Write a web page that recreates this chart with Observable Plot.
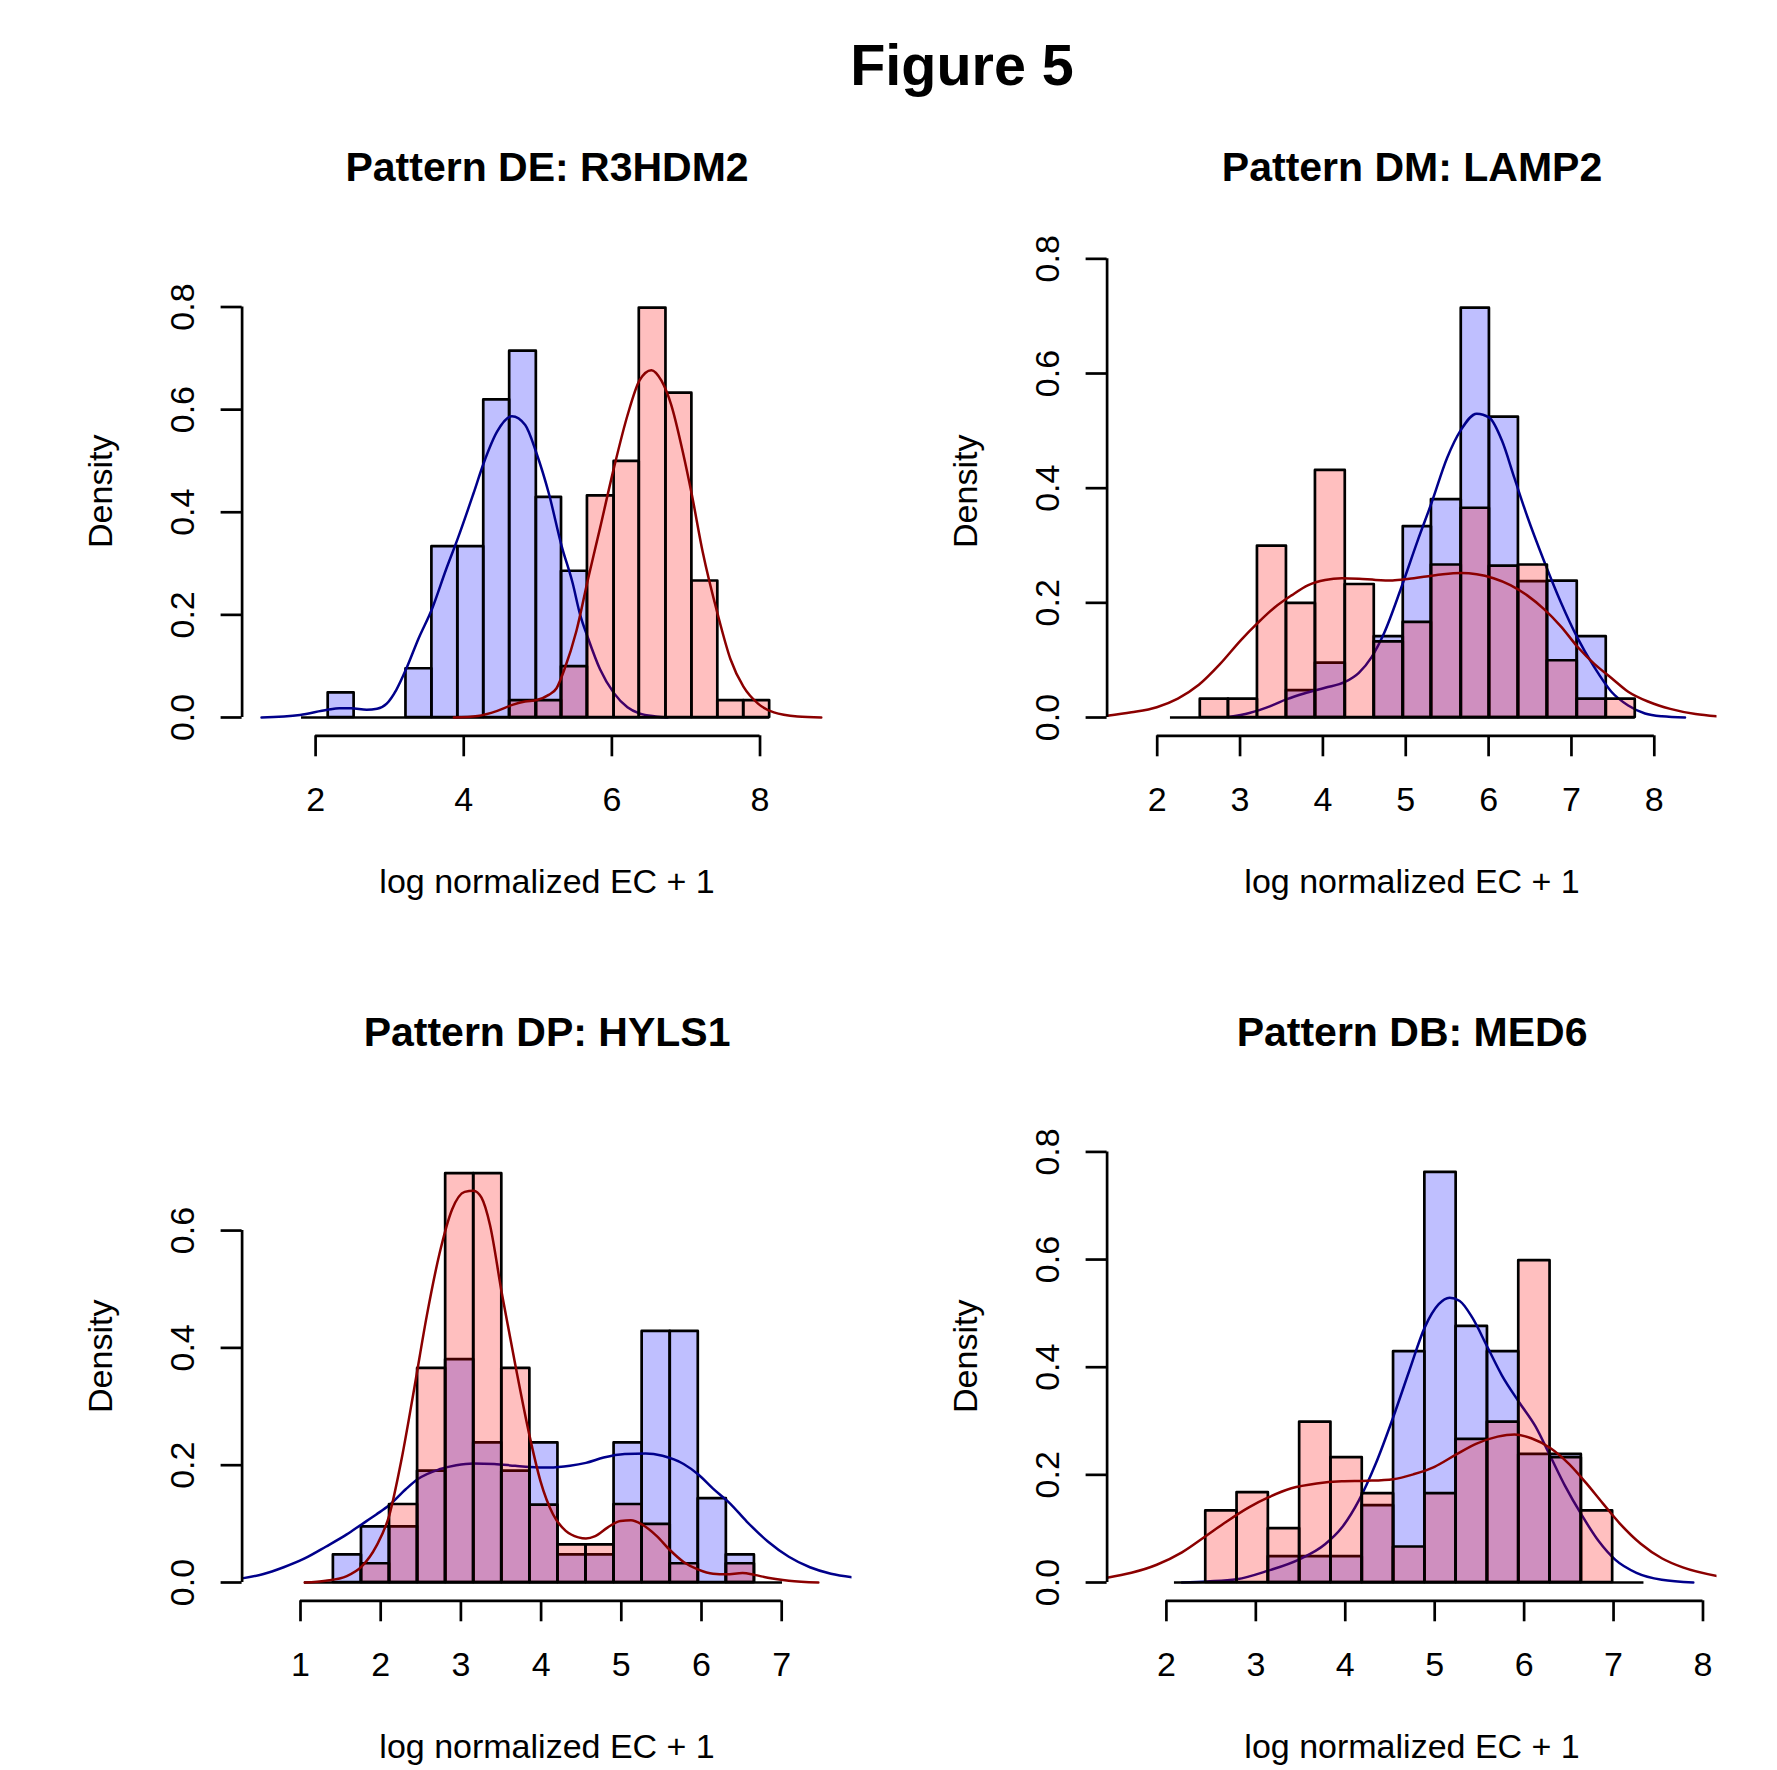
<!DOCTYPE html>
<html>
<head>
<meta charset="utf-8">
<script src="https://cdn.jsdelivr.net/npm/d3@7"></script>
<script src="https://cdn.jsdelivr.net/npm/@observablehq/plot@0.6"></script>
<style>
  html, body { margin: 0; padding: 0; background: #ffffff; }
  #page { position: relative; width: 1777px; height: 1770px; overflow: hidden;
          font-family: "Liberation Sans", Arial, Helvetica, sans-serif; }
  #figtitle { position: absolute; left: 662px; width: 600px; top: 36.5px; text-align: center;
              font-size: 57.5px; line-height: 57.5px; font-weight: bold; color: #000; z-index: 2; }
  .panel { position: absolute; width: 865px; height: 865px; }
</style>
</head>
<body>
<div id="page"><div id="figtitle">Figure 5</div></div>
<script>
// ---------------- data ----------------
const titles = ["Pattern DE: R3HDM2", "Pattern DM: LAMP2", "Pattern DP: HYLS1", "Pattern DB: MED6"];
const xLabel = "log normalized EC + 1";
const yLabel = "Density";

// Panel 1: Pattern DE: R3HDM2
const p1Edges = [1.81, 2.17, 2.52, 2.87, 3.22, 3.57, 3.92, 4.27, 4.62, 4.98, 5.32, 5.67, 6.03, 6.37, 6.73, 7.08, 7.43, 7.78, 8.13];
const p1Blue = [0, 0.048, 0, 0, 0.095, 0.333, 0.333, 0.619, 0.714, 0.429, 0.285, 0, 0, 0, 0, 0, 0, 0];
const p1Red = [0, 0, 0, 0, 0, 0, 0, 0, 0.033, 0.033, 0.099, 0.432, 0.499, 0.798, 0.632, 0.266, 0.033, 0.033];
const p1BlueKdeX = [1.27, 1.79, 2.16, 2.32, 2.48, 2.69, 2.83, 2.96, 3.09, 3.23, 3.39, 3.57, 3.76, 3.92, 4.13, 4.27, 4.45, 4.65, 4.83, 4.98, 5.15, 5.32, 5.47, 5.57, 5.68, 5.84, 6.03, 6.21, 6.37, 6.59, 6.75];
const p1BlueKdeY = [0, 0.005, 0.015, 0.018, 0.018, 0.015, 0.017, 0.027, 0.054, 0.097, 0.154, 0.211, 0.288, 0.349, 0.436, 0.496, 0.557, 0.587, 0.570, 0.516, 0.436, 0.335, 0.262, 0.201, 0.154, 0.094, 0.047, 0.020, 0.008, 0.002, 0];
const p1RedKdeX = [3.867, 4.187, 4.453, 4.667, 4.827, 4.987, 5.147, 5.253, 5.36, 5.52, 5.675, 5.84, 6.027, 6.213, 6.373, 6.533, 6.667, 6.80, 6.96, 7.077, 7.227, 7.429, 7.6, 7.776, 7.973, 8.187, 8.507, 8.827];
const p1RedKdeY = [0, 0.003, 0.013, 0.025, 0.031, 0.034, 0.044, 0.057, 0.094, 0.168, 0.268, 0.369, 0.486, 0.590, 0.657, 0.677, 0.657, 0.610, 0.516, 0.436, 0.322, 0.201, 0.114, 0.060, 0.027, 0.010, 0.002, 0];
const p1XTicks = [2, 4, 6, 8];
const p1YTicks = [0, 0.2, 0.4, 0.6, 0.8];

// Panel 2: Pattern DM: LAMP2
const p2Edges = [2.16, 2.52, 2.86, 3.21, 3.56, 3.91, 4.27, 4.62, 4.97, 5.31, 5.67, 6.01, 6.36, 6.71, 7.07, 7.42, 7.77];
const p2Blue = [0, 0, 0, 0, 0.047, 0.095, 0, 0.141, 0.333, 0.380, 0.714, 0.524, 0.237, 0.238, 0.141, 0];
const p2Red = [0, 0.032, 0.032, 0.299, 0.199, 0.431, 0.232, 0.132, 0.166, 0.266, 0.365, 0.264, 0.266, 0.099, 0.032, 0.032];
const p2BlueKdeX = [2.859, 3.113, 3.367, 3.565, 3.773, 4.027, 4.266, 4.434, 4.586, 4.738, 4.942, 5.145, 5.313, 5.50, 5.668, 5.856, 6.009, 6.161, 6.313, 6.466, 6.669, 6.872, 7.065, 7.279, 7.482, 7.685, 7.888, 8.091, 8.371];
const p2BlueKdeY = [0.001, 0.008, 0.020, 0.032, 0.042, 0.052, 0.062, 0.078, 0.105, 0.147, 0.225, 0.309, 0.375, 0.453, 0.502, 0.530, 0.523, 0.483, 0.417, 0.351, 0.273, 0.201, 0.141, 0.087, 0.045, 0.021, 0.007, 0.002, 0];
const p2RedKdeX = [1.395, 1.69, 1.995, 2.249, 2.503, 2.757, 3.011, 3.214, 3.417, 3.621, 3.824, 4.027, 4.23, 4.434, 4.637, 4.84, 5.043, 5.246, 5.45, 5.668, 5.856, 6.059, 6.263, 6.466, 6.669, 6.872, 7.075, 7.279, 7.482, 7.685, 7.939, 8.193, 8.498, 8.752];
const p2RedKdeY = [0.003, 0.009, 0.018, 0.033, 0.057, 0.093, 0.135, 0.165, 0.192, 0.213, 0.231, 0.240, 0.243, 0.242, 0.240, 0.239, 0.242, 0.246, 0.250, 0.252, 0.250, 0.243, 0.231, 0.213, 0.189, 0.159, 0.123, 0.093, 0.069, 0.045, 0.027, 0.015, 0.006, 0.002];
const p2XTicks = [2, 3, 4, 5, 6, 7, 8];
const p2YTicks = [0, 0.2, 0.4, 0.6, 0.8];

// Panel 3: Pattern DP: HYLS1
const p3Edges = [1.05, 1.41, 1.76, 2.11, 2.46, 2.81, 3.16, 3.51, 3.86, 4.21, 4.56, 4.91, 5.26, 5.61, 5.96, 6.31, 6.66, 7.01];
const p3Blue = [0, 0.047, 0.095, 0.095, 0.19, 0.38, 0.238, 0.19, 0.238, 0.047, 0.047, 0.238, 0.428, 0.428, 0.143, 0.047, 0];
const p3Red = [0, 0, 0.032, 0.133, 0.365, 0.697, 0.697, 0.365, 0.132, 0.064, 0.064, 0.133, 0.099, 0.032, 0, 0.032, 0];
const p3BlueKdeX = [0.2718, 0.528, 0.79, 1.052, 1.315, 1.577, 1.761, 1.945, 2.108, 2.312, 2.459, 2.732, 2.942, 3.157, 3.415, 3.677, 3.861, 4.097, 4.36, 4.559, 4.78, 5.042, 5.304, 5.514, 5.777, 5.961, 6.144, 6.354, 6.564, 6.827, 7.089, 7.352, 7.614, 7.877];
const p3BlueKdeY = [0.007, 0.014, 0.026, 0.041, 0.061, 0.082, 0.099, 0.116, 0.132, 0.159, 0.176, 0.193, 0.200, 0.203, 0.202, 0.199, 0.197, 0.196, 0.199, 0.204, 0.213, 0.219, 0.220, 0.216, 0.202, 0.184, 0.160, 0.135, 0.104, 0.070, 0.044, 0.026, 0.015, 0.009];
const p3RedKdeX = [1.052, 1.315, 1.577, 1.761, 1.945, 2.108, 2.26, 2.417, 2.575, 2.732, 2.89, 3.047, 3.157, 3.257, 3.362, 3.509, 3.677, 3.861, 3.992, 4.15, 4.307, 4.465, 4.559, 4.675, 4.832, 4.99, 5.121, 5.257, 5.436, 5.609, 5.777, 5.961, 6.144, 6.307, 6.512, 6.659, 6.827, 7.089, 7.457];
const p3RedKdeY = [0, 0.003, 0.011, 0.027, 0.062, 0.115, 0.21, 0.33, 0.455, 0.56, 0.636, 0.666, 0.668, 0.656, 0.610, 0.494, 0.372, 0.247, 0.173, 0.116, 0.088, 0.077, 0.075, 0.079, 0.094, 0.105, 0.106, 0.099, 0.080, 0.055, 0.035, 0.022, 0.015, 0.014, 0.016, 0.013, 0.008, 0.003, 0];
const p3XTicks = [1, 2, 3, 4, 5, 6, 7];
const p3YTicks = [0, 0.2, 0.4, 0.6];

// Panel 4: Pattern DB: MED6
const p4Edges = [2.09, 2.44, 2.79, 3.14, 3.49, 3.84, 4.19, 4.54, 4.89, 5.24, 5.59, 5.94, 6.29, 6.64, 6.99, 7.34];
const p4Blue = [0, 0, 0, 0.048, 0.048, 0.048, 0.143, 0.429, 0.762, 0.476, 0.429, 0.238, 0.238, 0, 0];
const p4Red = [0, 0.133, 0.167, 0.100, 0.298, 0.232, 0.165, 0.066, 0.165, 0.266, 0.298, 0.598, 0.232, 0.133, 0];
const p4BlueKdeX = [2.174, 2.456, 2.786, 3.139, 3.487, 3.774, 3.962, 4.151, 4.339, 4.536, 4.715, 4.889, 5.045, 5.167, 5.28, 5.421, 5.591, 5.751, 5.944, 6.127, 6.292, 6.456, 6.645, 6.833, 7.021, 7.256, 7.539, 7.892];
const p4BlueKdeY = [0, 0.002, 0.006, 0.022, 0.043, 0.071, 0.102, 0.152, 0.220, 0.307, 0.393, 0.474, 0.517, 0.529, 0.523, 0.492, 0.437, 0.385, 0.335, 0.290, 0.235, 0.180, 0.125, 0.077, 0.042, 0.018, 0.005, 0];
const p4RedKdeX = [1.336, 1.609, 1.892, 2.174, 2.438, 2.645, 2.927, 3.139, 3.398, 3.68, 3.962, 4.245, 4.536, 4.762, 4.998, 5.242, 5.468, 5.704, 5.892, 6.08, 6.292, 6.504, 6.692, 6.88, 7.068, 7.304, 7.539, 7.774, 8.157];
const p4RedKdeY = [0.009, 0.018, 0.033, 0.056, 0.086, 0.110, 0.140, 0.158, 0.175, 0.184, 0.188, 0.189, 0.192, 0.201, 0.215, 0.238, 0.258, 0.271, 0.275, 0.268, 0.250, 0.220, 0.185, 0.147, 0.110, 0.072, 0.045, 0.028, 0.012];
const p4XTicks = [2, 3, 4, 5, 6, 7, 8];
const p4YTicks = [0, 0.2, 0.4, 0.6, 0.8];

// ---------------- layout (R-like user coordinate ranges) ----------------
const xUsr = [[1.0077, 9.2417], [1.3953, 8.7568], [0.2718, 7.8766], [1.3369, 8.1567]];
const yUsr = [[-0.0357, 0.9273], [-0.0319, 0.8299], [-0.0312, 0.8112], [-0.0340, 0.8840]];

const panels = [
  {edges: p1Edges, blue: p1Blue, red: p1Red, bx: p1BlueKdeX, by: p1BlueKdeY, rx: p1RedKdeX, ry: p1RedKdeY, xt: p1XTicks, yt: p1YTicks},
  {edges: p2Edges, blue: p2Blue, red: p2Red, bx: p2BlueKdeX, by: p2BlueKdeY, rx: p2RedKdeX, ry: p2RedKdeY, xt: p2XTicks, yt: p2YTicks},
  {edges: p3Edges, blue: p3Blue, red: p3Red, bx: p3BlueKdeX, by: p3BlueKdeY, rx: p3RedKdeX, ry: p3RedKdeY, xt: p3XTicks, yt: p3YTicks},
  {edges: p4Edges, blue: p4Blue, red: p4Red, bx: p4BlueKdeX, by: p4BlueKdeY, rx: p4RedKdeX, ry: p4RedKdeY, xt: p4XTicks, yt: p4YTicks}
];

const W = 865, H = 865;
const ML = 241.6, MR = 13.5, MT = 241.2, MB = 129.7;
const LW = 2.7;   // histogram borders and axes
const CW = 2.5;   // density curves
const FONT = "'Liberation Sans', Arial, Helvetica, sans-serif";

function bins(edges, dens) {
  return dens.map((d, i) => ({x1: edges[i], x2: edges[i + 1], d})).filter(b => b.d > 0);
}
function pts(xs, ys) { return xs.map((x, i) => ({x, y: ys[i]})); }

const page = document.getElementById("page");

panels.forEach((p, i) => {
  const col = i % 2, row = Math.floor(i / 2);
  const svg = Plot.plot({
    width: W, height: H,
    marginLeft: ML, marginRight: MR, marginTop: MT, marginBottom: MB,
    x: {type: "linear", domain: xUsr[i]},
    y: {type: "linear", domain: yUsr[i]},
    style: {fontFamily: FONT, fontSize: "34px", background: "none", color: "black", overflow: "visible"},
    marks: [
      // blue histogram
      Plot.rect(bins(p.edges, p.blue), {x1: "x1", x2: "x2", y1: 0, y2: "d",
        fill: "rgb(0,0,255)", fillOpacity: 0.25, stroke: "black", strokeWidth: LW, strokeLinejoin: "round"}),
      // blue density
      Plot.line(pts(p.bx, p.by), {x: "x", y: "y", stroke: "#00008B", strokeWidth: CW, curve: "monotone-x", clip: true}),
      // red histogram
      Plot.rect(bins(p.edges, p.red), {x1: "x1", x2: "x2", y1: 0, y2: "d",
        fill: "rgb(255,0,0)", fillOpacity: 0.25, stroke: "black", strokeWidth: LW, strokeLinejoin: "round"}),
      // histogram baseline (zero-height bins)
      Plot.ruleY([0], {x1: p.edges[0], x2: p.edges[p.edges.length - 1], stroke: "black", strokeWidth: LW}),
      // red density
      Plot.line(pts(p.rx, p.ry), {x: "x", y: "y", stroke: "#8B0000", strokeWidth: CW, curve: "monotone-x", clip: true}),
      // x axis
      Plot.ruleY([yUsr[i][0]], {x1: p.xt[0], x2: p.xt[p.xt.length - 1], stroke: "black", strokeWidth: LW}),
      Plot.axisX({ticks: p.xt, anchor: "bottom", tickSize: 21, tickPadding: 30.0, fontSize: 34,
        strokeWidth: LW, label: null, tickFormat: d => String(d), lineAnchor: "top"}),
      // y axis
      Plot.ruleX([xUsr[i][0]], {y1: p.yt[0], y2: p.yt[p.yt.length - 1], stroke: "black", strokeWidth: LW}),
      Plot.axisY({ticks: p.yt, anchor: "left", tickSize: 21, tickPadding: 27.1, tickRotate: -90,
        textAnchor: "middle", lineAnchor: "bottom", fontSize: 34, strokeWidth: LW, label: null,
        tickFormat: d3.format(".1f")}),
      // labels
      Plot.text([titles[i]], {frameAnchor: "top", dy: -61.2, lineAnchor: "bottom", fontSize: 41, fontWeight: "bold"}),
      Plot.text([xLabel], {frameAnchor: "bottom", dy: 156.7, lineAnchor: "bottom", fontSize: 34}),
      Plot.text([yLabel], {frameAnchor: "left", dx: -129.9, dy: 2.5, rotate: -90, lineAnchor: "bottom", textAnchor: "middle", fontSize: 34})
    ]
  });
  const wrap = document.createElement("div");
  wrap.className = "panel";
  wrap.style.left = (col * 864.5) + "px";
  wrap.style.top = (row * 864.5) + "px";
  wrap.appendChild(svg);
  page.appendChild(wrap);
});
</script>
</body>
</html>
